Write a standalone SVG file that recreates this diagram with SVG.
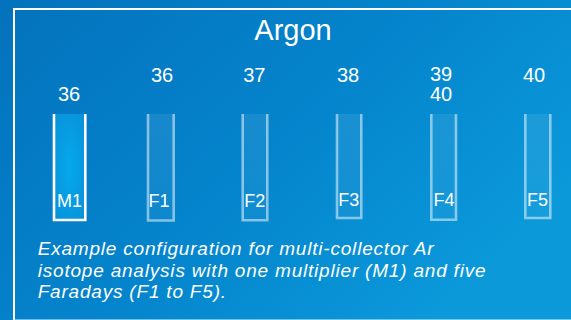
<svg xmlns="http://www.w3.org/2000/svg" width="571" height="320" viewBox="0 0 571 320">
  <defs>
    <linearGradient id="bg" x1="0" y1="0" x2="1" y2="0.6">
      <stop offset="0" stop-color="#0472bd"/>
      <stop offset="0.55" stop-color="#0484cc"/>
      <stop offset="1" stop-color="#0b99da"/>
    </linearGradient>
    <radialGradient id="mfill" cx="0.5" cy="0.5" r="0.7">
      <stop offset="0" stop-color="#05a9ec"/>
      <stop offset="1" stop-color="#0890d8"/>
    </radialGradient>
    <linearGradient id="ffill" x1="0" y1="0" x2="0" y2="1">
      <stop offset="0" stop-color="#ffffff" stop-opacity="0.08"/>
      <stop offset="1" stop-color="#ffffff" stop-opacity="0.04"/>
    </linearGradient>
    <style>
      .num { font-family: "Liberation Sans", Arial, sans-serif; font-size: 20px; fill: #ffffff; text-anchor: middle; }
      .lab { font-family: "Liberation Sans", Arial, sans-serif; font-size: 18px; fill: #ffffff; text-anchor: middle; }
      .title { font-family: "Liberation Sans", Arial, sans-serif; font-size: 29px; fill: #ffffff; text-anchor: middle; }
      .cap { font-family: "Liberation Sans", Arial, sans-serif; font-size: 19px; letter-spacing: 0.8px; font-style: italic; fill: #ffffff; }
      .mcup { fill: url(#mfill); stroke: #ffffff; stroke-width: 2.6; }
      .fcup { fill: url(#ffill); stroke: #ffffff; stroke-opacity: 0.5; stroke-width: 2.6; }
    </style>
  </defs>

  <!-- background panel and frame -->
  <rect x="0" y="0" width="571" height="320" fill="url(#bg)"/>
  <path d="M14 320 V9 H571" fill="none" stroke="#ffffff" stroke-width="2"/>
  <line x1="14" y1="319.5" x2="571" y2="319.5" stroke="#ffffff" stroke-opacity="0.45" stroke-width="1"/>

  <text class="title" x="293" y="40">Argon</text>

  <!-- collectors -->
  <g id="M1">
    <rect x="54" y="114" width="31.3" height="106" fill="url(#mfill)"/>
    <path class="mcup" d="M54 114 V220 H85.3 V114"/>
    <text class="num" x="69" y="100.7">36</text>
    <text class="lab" x="69.5" y="206.7">M1</text>
  </g>
  <g id="F1">
    <path class="fcup" d="M148 114 V220.5 H173.7 V114"/>
    <text class="num" x="162" y="81.7">36</text>
    <text class="lab" x="159" y="206.7">F1</text>
  </g>
  <g id="F2">
    <path class="fcup" d="M242.7 114 V220.3 H267.3 V114"/>
    <text class="num" x="254.3" y="81.7">37</text>
    <text class="lab" x="254.8" y="206.7">F2</text>
  </g>
  <g id="F3">
    <path class="fcup" d="M337 114 V218 H361.3 V114"/>
    <text class="num" x="348" y="81.7">38</text>
    <text class="lab" x="348.7" y="206">F3</text>
  </g>
  <g id="F4">
    <path class="fcup" d="M431.3 114 V219.8 H456 V114"/>
    <text class="num" x="441" y="81.3"><tspan x="441" y="81.3">39</tspan><tspan x="441" y="101">40</tspan></text>
    <text class="lab" x="444" y="206">F4</text>
  </g>
  <g id="F5">
    <path class="fcup" d="M525.3 114 V218 H550.3 V114"/>
    <text class="num" x="534" y="81.7">40</text>
    <text class="lab" x="537.5" y="206">F5</text>
  </g>

  <g id="caption">
    <text class="cap" x="37.7" y="255">Example configuration for multi-collector Ar</text>
    <text class="cap" x="37.7" y="276.7">isotope analysis with one multiplier (M1) and five</text>
    <text class="cap" x="37.7" y="297.7">Faradays (F1 to F5).</text>
  </g>
</svg>
